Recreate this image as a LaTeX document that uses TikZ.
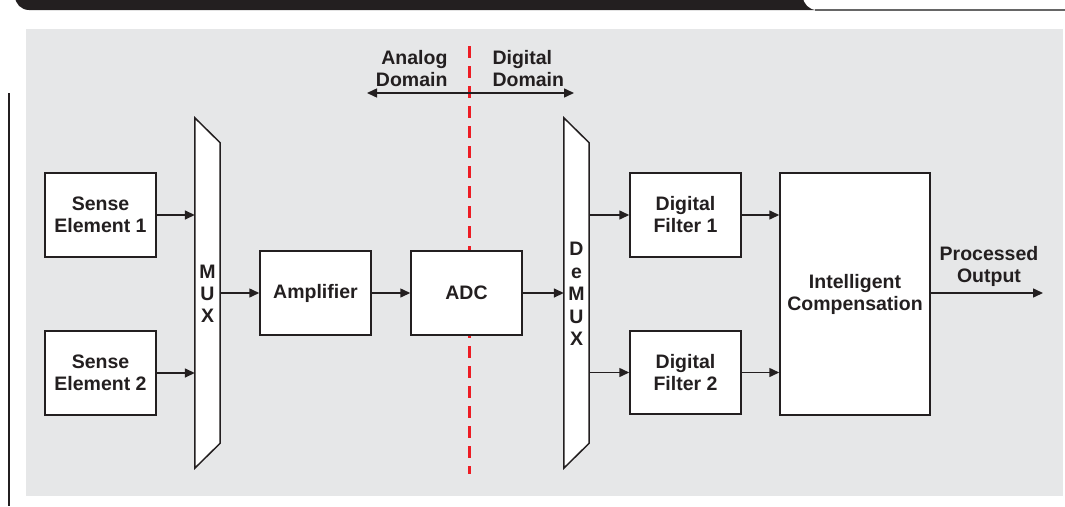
\documentclass[tikz,border=0pt]{standalone}
\usepackage{fontspec}
\setmainfont{Liberation Sans}
\usetikzlibrary{arrows.meta,calc}
\definecolor{ink}{HTML}{231F20}
\definecolor{panel}{HTML}{E6E7E8}
\definecolor{divider}{HTML}{ED1C24}
\begin{document}
\begin{tikzpicture}[x=1pt,y=-1pt,
  txt/.style={font=\fontsize{19.5}{22}\selectfont\bfseries, text=ink},
  block/.style={txt, draw=ink, line width=1.5pt, fill=white, align=center,
    minimum width=111pt, minimum height=84pt, inner sep=0pt},
  bus/.style={txt, align=center, minimum width=25pt, minimum height=350pt, inner sep=0pt},
  busshape/.style={draw=ink, line width=1.5pt, fill=white, line join=miter},
  arr/.style={draw=ink, line width=1.5pt, -{Triangle[length=10pt,width=9pt]}},
  darr/.style={draw=ink, line width=1.5pt, {Triangle[length=10pt,width=9pt]}-{Triangle[length=10pt,width=9pt]}}]
\useasboundingbox (0,0) rectangle (1065,506);

% header strip with the white tab on the right
\fill[ink, rounded corners=14pt] (15,-30) rectangle (840,10);
\fill[white, rounded corners=14pt] (803,-30) rectangle (1090,10);
\draw[black!60, line width=1.2pt] (815,10) -- (1065,10);

% page rule on the left and the grey panel
\draw[ink, line width=1.2pt] (9,93) -- (9,506);
\fill[panel] (26,29) rectangle (1063,496);

% domain divider
\coordinate (divtop) at (469,46);
\coordinate (divbot) at (469,474);
\draw[divider, line width=3pt, dash pattern=on 12pt off 8pt] (divtop) -- (divbot);

% domain arrow and labels
\coordinate (dl) at (367,93);
\coordinate (dr) at (574,93);
\draw[darr] (dl) -- (dr);
\node[txt, align=right, anchor=east] (analog) at (451,69) {Analog\\Domain};
\node[txt, align=left, anchor=west] (digital) at (489,69) {Digital\\Domain};

% input blocks
\node[block] (se1) at (100.5,215) {Sense\\Element 1};
\node[block] (se2) at (100.5,373) {Sense\\Element 2};

% multiplexer
\node[bus] (mux) at (207.5,293) {};
\draw[busshape] (mux.north west) -- ([yshift=-25pt]mux.north east)
  -- ([yshift=25pt]mux.south east) -- (mux.south west) -- cycle;
\node[txt, align=center] at ([yshift=-1pt]mux.center) {M\\U\\X};

% amplifier and converter
\node[block] (amp) at (315.5,293) {Amplifier};
\node[block] (adc) at (466.5,293) {ADC};

% demultiplexer
\node[bus] (demux) at (576.5,293) {};
\draw[busshape] (demux.north west) -- ([yshift=-25pt]demux.north east)
  -- ([yshift=25pt]demux.south east) -- (demux.south west) -- cycle;
\node[txt, align=center, font=\fontsize{19.5}{22.5}\selectfont\bfseries] at ([yshift=-1pt]demux.center) {D\\e\\M\\U\\X};

% digital filters
\node[block] (df1) at (685.5,215) {Digital\\Filter 1};
\node[block, minimum height=83pt] (df2) at (685.5,372.5) {Digital\\Filter 2};

% compensation block
\node[block, minimum width=150pt, minimum height=242pt] (ic) at (855,294) {Intelligent\\Compensation};

% output
\coordinate (out) at (1043,293);
\node[txt, align=center] (outlbl) at (989,266) {Processed\\Output};

% signal flow
\draw[arr] (se1.east) -- (se1.east -| mux.west);
\draw[arr] (se2.east) -- (se2.east -| mux.west);
\draw[arr] (mux.east |- amp.west) -- (amp.west);
\draw[arr] (amp.east) -- (adc.west);
\draw[arr] (adc.east) -- (adc.east -| demux.west);
\draw[arr] (demux.east |- df1.west) -- (df1.west);
\draw[arr] (demux.east |- df2.west) -- (df2.west);
\draw[arr] (df1.east) -- (df1.east -| ic.west);
\draw[arr] (df2.east) -- (df2.east -| ic.west);
\draw[arr] (ic.east |- out) -- (out);
\end{tikzpicture}
\end{document}
